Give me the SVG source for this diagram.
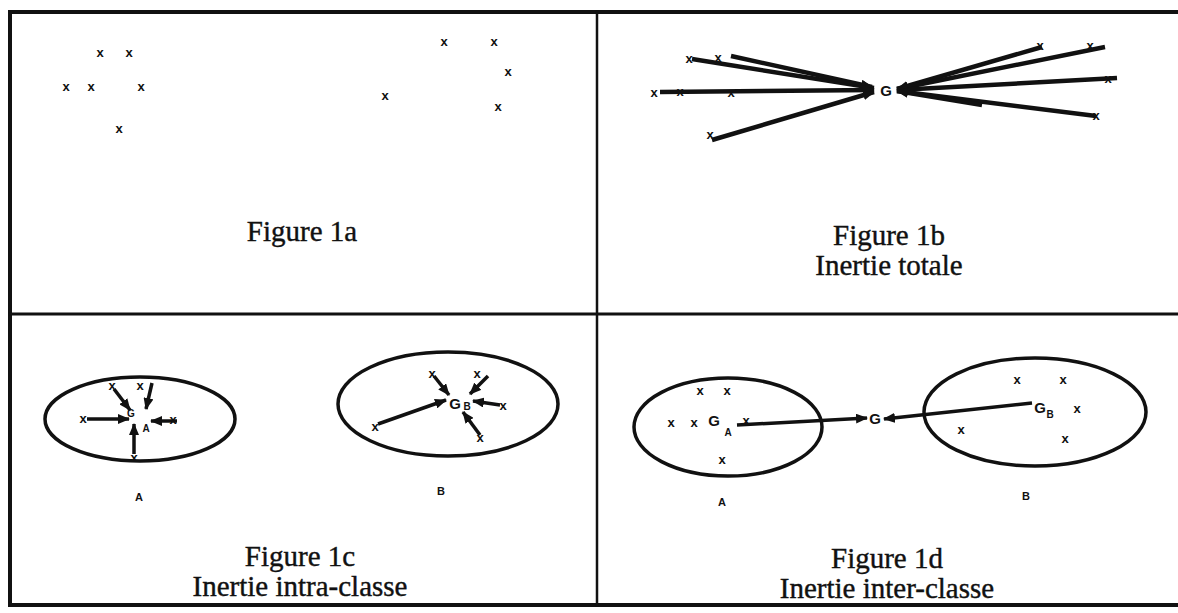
<svg xmlns="http://www.w3.org/2000/svg" width="1178" height="613" viewBox="0 0 1178 613">
<style>
.frame{stroke:#111;fill:none;stroke-linecap:square}
.cap{font-family:"Liberation Serif",serif;font-size:29px;fill:#111;stroke:#111;stroke-width:0.4;text-anchor:middle}
.x{font-family:"Liberation Sans",sans-serif;font-weight:bold;font-size:13px;fill:#111;text-anchor:middle;dominant-baseline:central}
.g{font-family:"Liberation Sans",sans-serif;font-weight:bold;font-size:15px;fill:#111;text-anchor:middle;dominant-baseline:central}
.sub{font-family:"Liberation Sans",sans-serif;font-weight:bold;font-size:10px;fill:#111;text-anchor:middle;dominant-baseline:central}
.lab{font-family:"Liberation Sans",sans-serif;font-weight:bold;font-size:11px;fill:#111;text-anchor:middle;dominant-baseline:central}
.ell{fill:none;stroke:#111;stroke-width:3.5}
.arr{stroke:#111;stroke-width:4.5;fill:none;marker-end:url(#ah)}
.arr2{stroke:#111;stroke-width:3.5;fill:none;marker-end:url(#ah)}
</style>
<defs>
<marker id="ah" viewBox="0 0 12 10" refX="11" refY="5" markerWidth="12" markerHeight="10" markerUnits="userSpaceOnUse" orient="auto">
<path d="M0,0 L12,5 L0,10 Z" fill="#111"/>
</marker>
</defs>
<rect width="1178" height="613" fill="#fff"/>
<g id="frame">
<line class="frame" x1="10" y1="12" x2="1178" y2="12" stroke-width="4"/>
<line class="frame" x1="10" y1="12" x2="10" y2="605" stroke-width="4"/>
<line class="frame" x1="10" y1="605" x2="1178" y2="605" stroke-width="4"/>
<line class="frame" x1="597" y1="12" x2="597" y2="605" stroke-width="2.5"/>
<line class="frame" x1="10" y1="314" x2="1178" y2="314" stroke-width="3"/>
</g>
<g id="fig1a">
<text class="x" x="100" y="52">x</text><text class="x" x="129" y="52">x</text>
<text class="x" x="66" y="86">x</text><text class="x" x="91" y="86">x</text>
<text class="x" x="141" y="86">x</text><text class="x" x="119" y="128">x</text>
<text class="x" x="444" y="41">x</text><text class="x" x="494" y="41">x</text>
<text class="x" x="508" y="71">x</text><text class="x" x="385" y="95">x</text>
<text class="x" x="498" y="106">x</text>
<text class="cap" x="302" y="241">Figure 1a</text>
</g>
<g id="fig1b">
<text class="x" x="689" y="58">x</text><text class="x" x="718" y="57">x</text>
<text class="x" x="654" y="92">x</text><text class="x" x="680" y="91">x</text>
<text class="x" x="731" y="92">x</text><text class="x" x="710" y="134">x</text>
<text class="x" x="1040" y="45">x</text><text class="x" x="1090" y="45">x</text>
<text class="x" x="1108" y="78">x</text><text class="x" x="1096" y="115">x</text>
<text class="g" x="886" y="90">G</text>
<text class="cap" x="889" y="245">Figure 1b</text>
<text class="cap" x="889" y="275">Inertie totale</text>
</g>
<g id="fig1c">
<ellipse class="ell" cx="140" cy="419" rx="95" ry="42"/>
<ellipse class="ell" cx="448" cy="404" rx="110" ry="52"/>
<text class="x" x="112" y="385">x</text><text class="x" x="140" y="385">x</text>
<text class="x" x="83" y="418">x</text><text class="x" x="173" y="419">x</text>
<text class="x" x="134" y="457">x</text>
<text class="sub" x="131" y="413">G</text><text class="sub" x="146" y="428">A</text>
<text class="x" x="432" y="373">x</text><text class="x" x="477" y="373">x</text>
<text class="x" x="503" y="405">x</text><text class="x" x="375" y="426">x</text>
<text class="x" x="480" y="437">x</text>
<text class="g" x="455" y="403">G</text><text class="sub" x="467" y="406">B</text>
<text class="lab" x="139" y="497">A</text><text class="lab" x="441" y="491">B</text>
<text class="cap" x="300" y="566">Figure 1c</text>
<text class="cap" x="300" y="596">Inertie intra-classe</text>
</g>
<g id="fig1d">
<ellipse class="ell" cx="728" cy="427" rx="94" ry="49"/>
<ellipse class="ell" cx="1035" cy="412" rx="111" ry="54"/>
<text class="x" x="700" y="390">x</text><text class="x" x="727" y="390">x</text>
<text class="x" x="671" y="422">x</text><text class="x" x="694" y="422">x</text>
<text class="x" x="746" y="420">x</text><text class="x" x="722" y="459">x</text>
<text class="g" x="714" y="420">G</text><text class="sub" x="728" y="432">A</text>
<text class="g" x="875" y="418">G</text>
<text class="g" x="1040" y="407">G</text><text class="sub" x="1050" y="414">B</text>
<text class="x" x="1017" y="379">x</text><text class="x" x="1063" y="379">x</text>
<text class="x" x="1077" y="408">x</text><text class="x" x="961" y="429">x</text>
<text class="x" x="1065" y="438">x</text>
<text class="lab" x="722" y="502">A</text><text class="lab" x="1026" y="496">B</text>
<text class="cap" x="887" y="568">Figure 1d</text>
<text class="cap" x="887" y="598">Inertie inter-classe</text>
</g>
<g id="connectors">
<path class="arr" d="M692,59 L874,88"/>
<path class="arr" d="M731,56 L872,87"/>
<path class="arr" d="M660,92 L874,90"/>
<path class="arr" d="M712,140 L874,92"/>
<path class="arr" d="M1042,47 L897,89"/>
<path class="arr" d="M1105,47 L897,89"/>
<path class="arr" d="M1117,78 L897,90"/>
<path class="arr" d="M1096,116 L897,91"/>
<path class="arr" d="M982,105 L897,91"/>
<path class="arr2" d="M114,389 L130,410"/>
<path class="arr2" d="M152,383 L146,409"/>
<path class="arr2" d="M87,419 L129,419"/>
<path class="arr2" d="M177,421 L151,421"/>
<path class="arr2" d="M134,454 L134,424"/>
<path class="arr2" d="M434,376 L449,395"/>
<path class="arr2" d="M488,376 L470,394"/>
<path class="arr2" d="M500,405 L473,401"/>
<path class="arr2" d="M378,424 L446,400"/>
<path class="arr2" d="M480,435 L463,412"/>
<path class="arr2" d="M737,425 L867,418"/>
<path class="arr2" d="M1032,403 L884,419"/>
</g>
</svg>
